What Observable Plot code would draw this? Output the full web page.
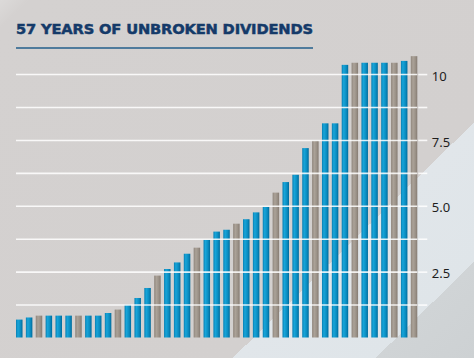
<!DOCTYPE html>
<html>
<head>
<meta charset="utf-8">
<script src="https://cdn.jsdelivr.net/npm/d3@7"></script>
<script src="https://cdn.jsdelivr.net/npm/@observablehq/plot@0.6"></script>
<style>
  html, body { margin: 0; padding: 0; }
  body {
    width: 474px; height: 358px; overflow: hidden; position: relative;
    background: linear-gradient(135.7deg, #dcdad9 0%, #d4d1d0 3.5%, #d3d0cf 71.3%, #e1e6ea 71.3%, #dfe5e9 88.3%, #d0d4d6 88.3%, #cdd1d3 100%);
    font-family: "Liberation Sans", Arial, sans-serif;
  }
  #title {
    position: absolute; left: 16px; top: 20.8px; margin: 0;
    font-family: "DejaVu Sans", sans-serif; font-weight: 700;
    font-size: 14.7px; line-height: 15px; color: #143a69; white-space: nowrap;
    -webkit-text-stroke: 0.5px #143a69;
  }
  #rule { position: absolute; left: 16px; top: 47px; width: 297px; height: 1.6px; background: #4f7b9c; }
  #chart { position: absolute; left: 0; top: 52px; }
</style>
</head>
<body>
<h1 id="title"><span id="tt">57 YEARS OF UNBROKEN DIVIDENDS</span></h1>
<div id="rule"></div>
<div id="chart"></div>
<script>
// Dividend per bar, in order
const values = [0.68, 0.76, 0.83, 0.83, 0.83, 0.83, 0.83, 0.83, 0.83, 0.93,
  1.06, 1.24, 1.50, 1.88, 2.35, 2.60, 2.85, 3.18, 3.41, 3.71,
  4.02, 4.09, 4.32, 4.49, 4.75, 4.96, 5.50, 5.90, 6.18, 7.19,
  7.47, 8.13, 8.13, 10.35, 10.43, 10.43, 10.43, 10.43, 10.43, 10.50, 10.68];
// Bar colour group
const kinds = ["blue","blue","gray","blue","blue","blue","gray","blue","blue","blue",
  "gray","blue","blue","blue","gray","blue","blue","blue","gray","blue",
  "blue","blue","gray","blue","blue","blue","gray","blue","blue","blue",
  "gray","blue","blue","blue","gray","blue","blue","blue","gray","blue","gray"];
const gridTicks = [1.25, 2.5, 3.75, 5, 6.25, 7.5, 8.75, 10];
const tickValues = [2.5, 5, 7.5, 10];
const tickLabels = ["2.5", "5.0", "7.5", "10"];

const data = values.map((v, i) => ({i, v, kind: kinds[i]}));
const labelMap = new Map(tickValues.map((t, i) => [t, tickLabels[i]]));

function defs() {
  const g = d3.create("svg:defs");
  const mk = (id, stops) => {
    const lg = g.append("linearGradient").attr("id", id).attr("x1", 0).attr("x2", 1).attr("y1", 0).attr("y2", 0);
    stops.forEach(([o, c]) => lg.append("stop").attr("offset", o).attr("stop-color", c));
  };
  mk("gBlue", [[0, "#0a7fb2"], [0.3, "#17a5d9"], [0.7, "#0a8cc0"], [1, "#006b9b"]]);
  mk("gGray", [[0, "#8f867d"], [0.35, "#aba298"], [0.7, "#9b9288"], [1, "#857b72"]]);
  return g.node();
}

const chart = Plot.plot({
  width: 474,
  height: 306,
  marginLeft: 16,
  marginRight: 56.7,
  marginTop: 1,
  marginBottom: 20.5,
  style: {background: "transparent", overflow: "visible"},
  x: {type: "band", domain: d3.range(values.length), paddingInner: 0.34, paddingOuter: 0, axis: null},
  y: {domain: [0, 10.8], axis: null},
  color: {type: "ordinal", domain: ["blueBar", "grayBar"], range: ["url(#gBlue)", "url(#gGray)"]},
  marks: [
    defs,
    Plot.barY(data, {x: "i", y: "v", fill: d => d.kind + "Bar"}),
    Plot.gridY(gridTicks, {stroke: "#ffffff", strokeOpacity: 0.85, strokeWidth: 1.6}),
    Plot.axisY(gridTicks, {anchor: "right", tickSize: 9, stroke: "#ffffff", strokeOpacity: 0.85, strokeWidth: 1.6, tickFormat: () => "", label: null}),
    Plot.axisY(tickValues, {anchor: "right", tickSize: 0, tickPadding: 14, tickFormat: d => labelMap.get(d), fontSize: 13, fill: "#1e1e1e", dy: 2, label: null})
  ]
});
document.getElementById("chart").appendChild(chart);

// fit title to its measured width in the picture
const tt = document.getElementById("tt");
const w = tt.getBoundingClientRect().width;
const n = tt.textContent.length;
tt.style.letterSpacing = ((297 - w) / (n - 1)) + "px";
</script>
</body>
</html>
